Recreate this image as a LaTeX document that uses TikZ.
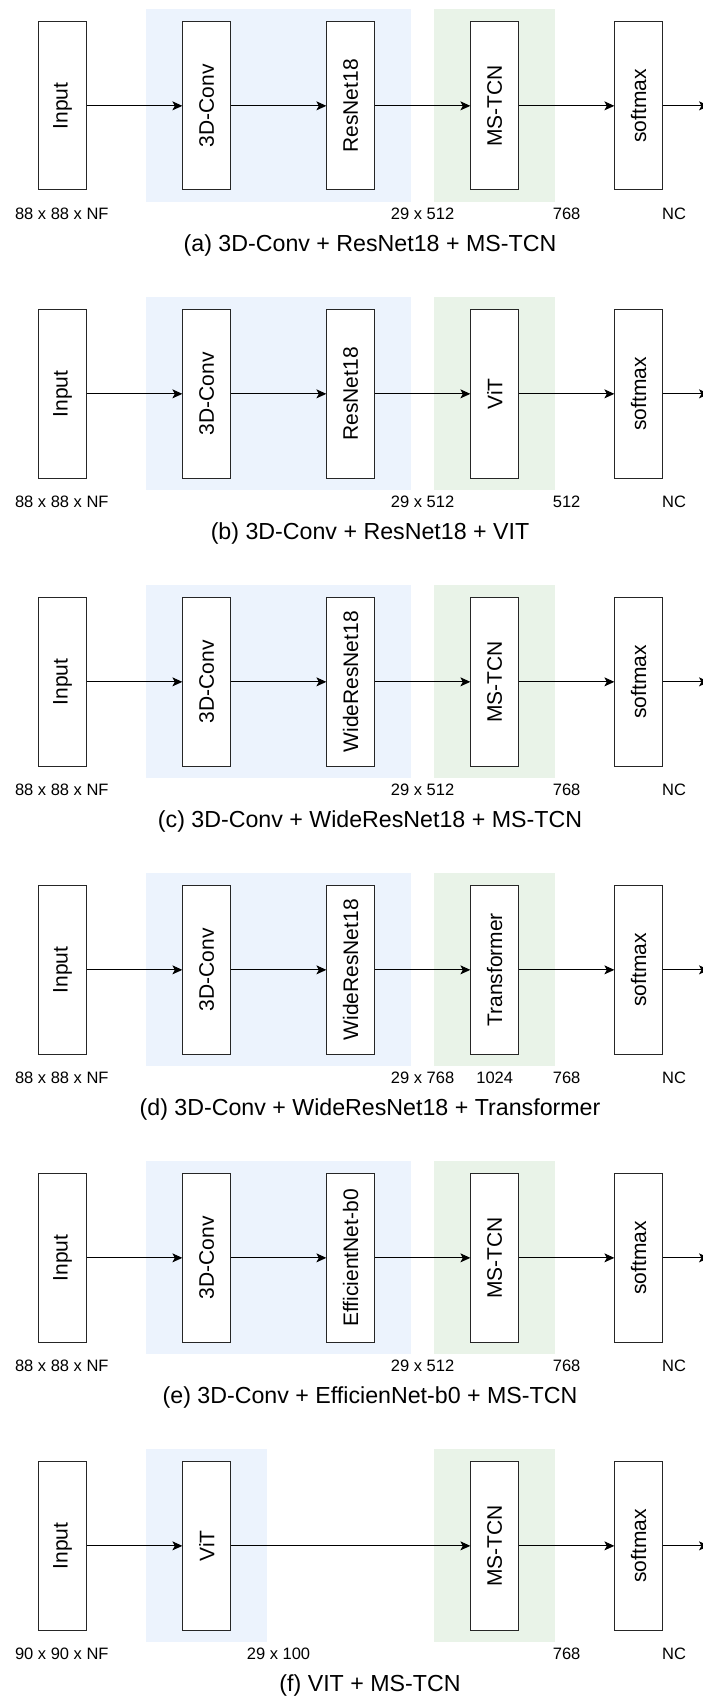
\documentclass[tikz,border=0pt]{standalone}
\usepackage{fontspec}
\setmainfont{Liberation Sans}
\usetikzlibrary{arrows.meta}
\definecolor{bluebg}{RGB}{236,243,253}
\definecolor{greenbg}{RGB}{233,243,232}

\begin{document}
\begin{tikzpicture}[x=1pt,y=-1pt,>={Stealth[length=10pt,width=9pt,inset=2.5pt]},
  box/.style={draw=black!85,line width=1pt,fill=white,rotate=90,minimum width=168.3pt,minimum height=47.7pt,inner sep=0pt,font=\fontsize{21}{25}\selectfont},
  dim/.style={anchor=base,inner sep=0pt,font=\fontsize{16.5}{20}\selectfont},
  capt/.style={anchor=base,inner sep=0pt,font=\fontsize{23.2}{28}\selectfont},
  flow/.style={->,line width=1pt}]
\useasboundingbox (0,0) rectangle (702,1704);
% rows (a)--(e): 3D-Conv front end
\foreach \i/\net/\seq/\la/\lc/\cap [evaluate=\i as \yo using \i*288] in {
  0/ResNet18/MS-TCN/29 x 512/768/(a) 3D-Conv + ResNet18 + MS-TCN,
  1/ResNet18/ViT/29 x 512/512/(b) 3D-Conv + ResNet18 + VIT,
  2/WideResNet18/MS-TCN/29 x 512/768/(c) 3D-Conv + WideResNet18 + MS-TCN,
  3/WideResNet18/Transformer/29 x 768/768/(d) 3D-Conv + WideResNet18 + Transformer,
  4/EfficientNet-b0/MS-TCN/29 x 512/768/(e) 3D-Conv + EfficienNet-b0 + MS-TCN} {
  \fill[bluebg] (146,\yo+9) rectangle (411,\yo+201.7);
  \fill[greenbg] (433.5,\yo+9) rectangle (555.3,\yo+201.7);
  \node[box] (in\i) at (62.7,\yo+105.85) {Input};
  \node[box] (cv\i) at (206.7,\yo+105.85) {3D-Conv};
  \node[box] (fe\i) at (350.7,\yo+105.85) {\net};
  \node[box] (bk\i) at (494.7,\yo+105.85) {\seq};
  \node[box] (sm\i) at (638.7,\yo+105.85) {softmax};
  \coordinate (out\i) at (709,\yo+105.85);
  \draw[flow] (in\i) -- (cv\i);
  \draw[flow] (cv\i) -- (fe\i);
  \draw[flow] (fe\i) -- (bk\i);
  \draw[flow] (bk\i) -- (sm\i);
  \draw[flow] (sm\i) -- (out\i);
  \node[dim] (l0\i) at (61.8,\yo+219.5) {88 x 88 x NF};
  \node[dim] (l1\i) at (422.6,\yo+219.5) {\la};
  \node[dim] (l3\i) at (566.6,\yo+219.5) {\lc};
  \node[dim] (l4\i) at (674,\yo+219.5) {NC};
  \node[capt] (cap\i) at (370,\yo+251.3) {\cap};
}
\node[dim] (l23) at (494.7,1083.5) {1024};
% row (f): ViT front end
\fill[bluebg] (146,1449) rectangle (267,1641.7);
\fill[greenbg] (433.5,1449) rectangle (555.3,1641.7);
\node[box] (in5) at (62.7,1545.85) {Input};
\node[box] (vt5) at (206.7,1545.85) {ViT};
\node[box] (bk5) at (494.7,1545.85) {MS-TCN};
\node[box] (sm5) at (638.7,1545.85) {softmax};
\coordinate (out5) at (709,1545.85);
\draw[flow] (in5) -- (vt5);
\draw[flow] (vt5) -- (bk5);
\draw[flow] (bk5) -- (sm5);
\draw[flow] (sm5) -- (out5);
\node[dim] (l05) at (61.8,1659.5) {90 x 90 x NF};
\node[dim] (l15) at (278.5,1659.5) {29 x 100};
\node[dim] (l35) at (566.6,1659.5) {768};
\node[dim] (l45) at (674,1659.5) {NC};
\node[capt] (cap5) at (370,1691.3) {(f) VIT + MS-TCN};
\end{tikzpicture}
\end{document}
